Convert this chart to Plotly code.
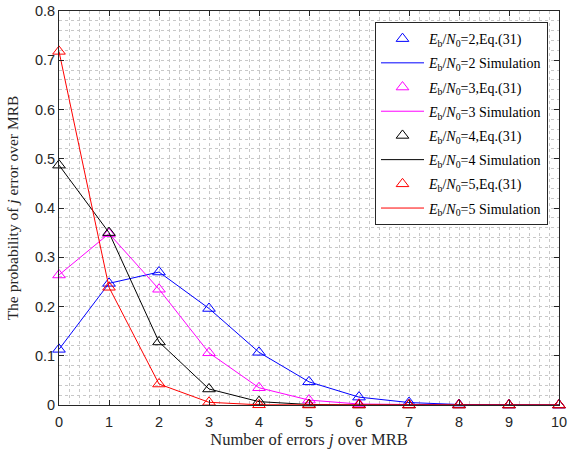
import plotly.graph_objects as go

j = [0, 1, 2, 3, 4, 5, 6, 7, 8, 9, 10]
p_eb2 = [0.113, 0.247, 0.270, 0.196, 0.107, 0.047, 0.016, 0.005, 0.001, 0.0002, 0.0]
p_eb3 = [0.264, 0.348, 0.235, 0.106, 0.035, 0.010, 0.002, 0.0005, 0.0001, 0.0, 0.0]
p_eb4 = [0.487, 0.350, 0.128, 0.0325, 0.0068, 0.001, 0.0001, 0.0, 0.0, 0.0, 0.0]
p_eb5 = [0.718, 0.239, 0.0426, 0.0055, 0.0004, 0.0, 0.0, 0.0, 0.0, 0.0, 0.0]
snr_labels = ["2", "3", "4", "5"]
y_tickvals = [0, 0.1, 0.2, 0.3, 0.4, 0.5, 0.6, 0.7, 0.8]
y_ticktext = ["0", "0.1", "0.2", "0.3", "0.4", "0.5", "0.6", "0.7", "0.8"]
x_tickvals = [0, 1, 2, 3, 4, 5, 6, 7, 8, 9, 10]
x_ticktext = ["0", "1", "2", "3", "4", "5", "6", "7", "8", "9", "10"]
colors = ["#0000ff", "#ff00ff", "#000000", "#ff0000"]
series = [p_eb2, p_eb3, p_eb4, p_eb5]

fig = go.Figure()
for k, (lab, col, ys) in enumerate(zip(snr_labels, colors, series)):
    fig.add_trace(go.Scatter(
        x=j, y=ys, mode="markers",
        marker=dict(symbol="triangle-up-open", size=11, color=col, line=dict(width=1, color=col)),
        name=f"<i>E</i><sub>b</sub>/<i>N</i><sub>0</sub>={lab},Eq.(31)",
        legendgroup=f"m{k}",
        cliponaxis=False,
    ))
    fig.add_trace(go.Scatter(
        x=j, y=ys, mode="lines",
        line=dict(color=col, width=1),
        name=f"<i>E</i><sub>b</sub>/<i>N</i><sub>0</sub>={lab} Simulation",
        legendgroup=f"l{k}",
    ))

axcol = "#262626"
gridcol = "#c8c8c8"
common = dict(
    showline=True, linecolor=axcol, linewidth=1, mirror="ticks",
    ticks="inside", ticklen=5, tickcolor=axcol,
    tickfont=dict(family="Liberation Sans, Arial", size=14.5, color=axcol),
    showgrid=True, gridcolor=gridcol, griddash="dot", gridwidth=1,
    zeroline=False, automargin=False,
)
fig.update_xaxes(
    range=[0, 10], tickmode="array", tickvals=x_tickvals, ticktext=x_ticktext,
    ticklabelstandoff=4,
    minor=dict(dtick=0.2, tick0=0, showgrid=True, gridcolor=gridcol, griddash="dot", gridwidth=1),
    title=dict(text="Number of errors <i>j</i> over MRB",
               font=dict(family="Liberation Serif, Times New Roman", size=16.5, color=axcol), standoff=4),
    **common,
)
fig.update_yaxes(
    range=[0, 0.8], tickmode="array", tickvals=y_tickvals, ticktext=y_ticktext,
    minor=dict(dtick=0.02, tick0=0, showgrid=True, gridcolor=gridcol, griddash="dot", gridwidth=1),
    title=dict(text="The probability of <i>j</i> error over MRB",
               font=dict(family="Liberation Serif, Times New Roman", size=15.5, color=axcol), standoff=12),
    **common,
)
fig.update_layout(
    width=570, height=458,
    margin=dict(l=59, r=11, t=11, b=53, autoexpand=False),
    paper_bgcolor="white", plot_bgcolor="white",
    legend=dict(
        x=0.632, y=0.972, xanchor="left", yanchor="top",
        bgcolor="white", bordercolor=axcol, borderwidth=1,
        font=dict(family="Liberation Serif, Times New Roman", size=14, color="#000000"),
        tracegroupgap=3, itemwidth=43,
    ),
)
fig.write_html("out.html", config={"displayModeBar": False},
               post_script="document.body.style.margin='0';document.body.style.overflow='hidden';")
